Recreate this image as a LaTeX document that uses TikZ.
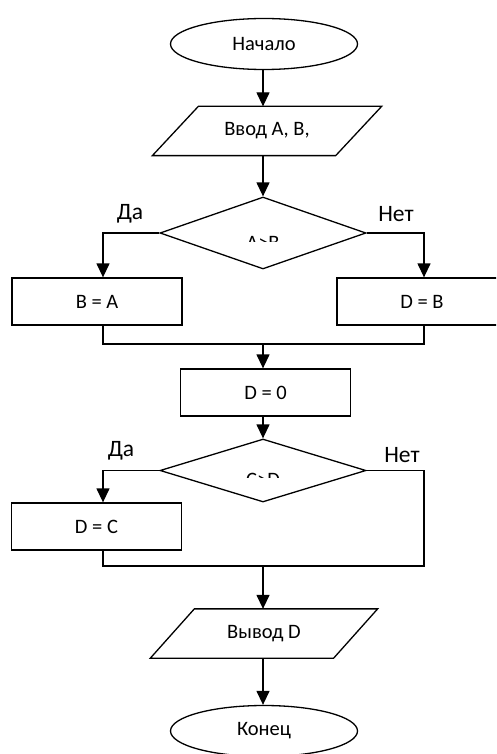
\documentclass[tikz,border=0pt]{standalone}
\usepackage{fontspec}
\setmainfont{Carlito}
\usetikzlibrary{arrows.meta,shapes.geometric}
\begin{document}
\begin{tikzpicture}[x=1pt,y=-1pt, line width=1.3pt,
  every node/.style={font=\fontsize{20.5}{23}\selectfont, inner sep=0pt},
  term/.style={draw, ellipse, minimum width=187pt, minimum height=51pt},
  proc/.style={draw, rectangle, minimum width=170pt, minimum height=47pt},
  dec/.style={draw, diamond, minimum width=206pt},
  io/.style={minimum width=182pt, minimum height=48pt},
  lbl/.style={font=\fontsize{23.5}{26}\selectfont},
  arr/.style={-{Triangle[length=14pt,width=13pt]}}
]
\useasboundingbox (0,0) rectangle (496,754);
\clip (0,0) rectangle (496,754);

% nodes
\node[term] (start) at (264,44) {Начало};
\node[io] (in) at (267,131) {Ввод А, В,};
\draw ([xshift=23pt]in.north west) -- ([xshift=23pt]in.north east) -- ([xshift=-23pt]in.south east) -- ([xshift=-23pt]in.south west) -- cycle;
\node[dec, minimum height=72pt] (c1) at (263,233) {};
\node[proc] (b1) at (97,301.5) {B = A};
\node[proc] (b2) at (422,301.5) {D = B};
\node[proc] (b3) at (265.5,392.5) {D = 0};
\node[dec, minimum height=63pt] (c2) at (263,470.5) {};
\node[proc] (b4) at (96.5,526.5) {D = C};
\node[io] (out) at (264,633.5) {Вывод D};
\draw ([xshift=22pt]out.north west) -- ([xshift=22pt]out.north east) -- ([xshift=-22pt]out.south east) -- ([xshift=-22pt]out.south west) -- cycle;
\node[term] (end) at (264,731) {Конец};

% clipped condition texts
\begin{scope}
  \clip (160,190) rectangle (366,241);
  \node[anchor=base] (t1) at (263,249) {A>B};
\end{scope}
\begin{scope}
  \clip (160,430) rectangle (366,477);
  \node[anchor=base] (t2) at (263,486) {C>D};
\end{scope}

% labels
\node[lbl] (y1) at (130,214) {Да};
\node[lbl] (n1) at (396,214) {Нет};
\node[lbl] (y2) at (121,451) {Да};
\node[lbl] (n2) at (402,455) {Нет};

% junctions
\coordinate (j1) at (263,344);
\coordinate (j2) at (263,566);
\coordinate (b1s) at ([xshift=6pt]b1.south);
\coordinate (b2s) at ([xshift=2pt]b2.south);
\coordinate (b4s) at ([xshift=6.5pt]b4.south);
\coordinate (r2) at (424,566);

% connectors
\draw[arr] (start.south -| c1.north) -- (c1.north |- in.north);
\draw[arr] (in.south -| c1.north) -- (c1.north);
\draw[arr] (c1.west) -| ([xshift=6pt]b1.north);
\draw[arr] (c1.east) -| ([xshift=2pt]b2.north);
\draw (b1s) |- (b1s |- j1) -- (b2s |- j1) -- (b2s);
\draw[arr] (j1) -- (j1 |- b3.north);
\draw[arr] (b3.south -| j1) -- (c2.north);
\draw[arr] (c2.west) -| ([xshift=6.5pt]b4.north);
\draw (c2.east) -| (r2) -- (b4s |- r2) -- (b4s);
\draw[arr] (j2) -- (j2 |- out.north);
\draw[arr] (out.south -| j2) -- (j2 |- end.north);
\end{tikzpicture}
\end{document}
